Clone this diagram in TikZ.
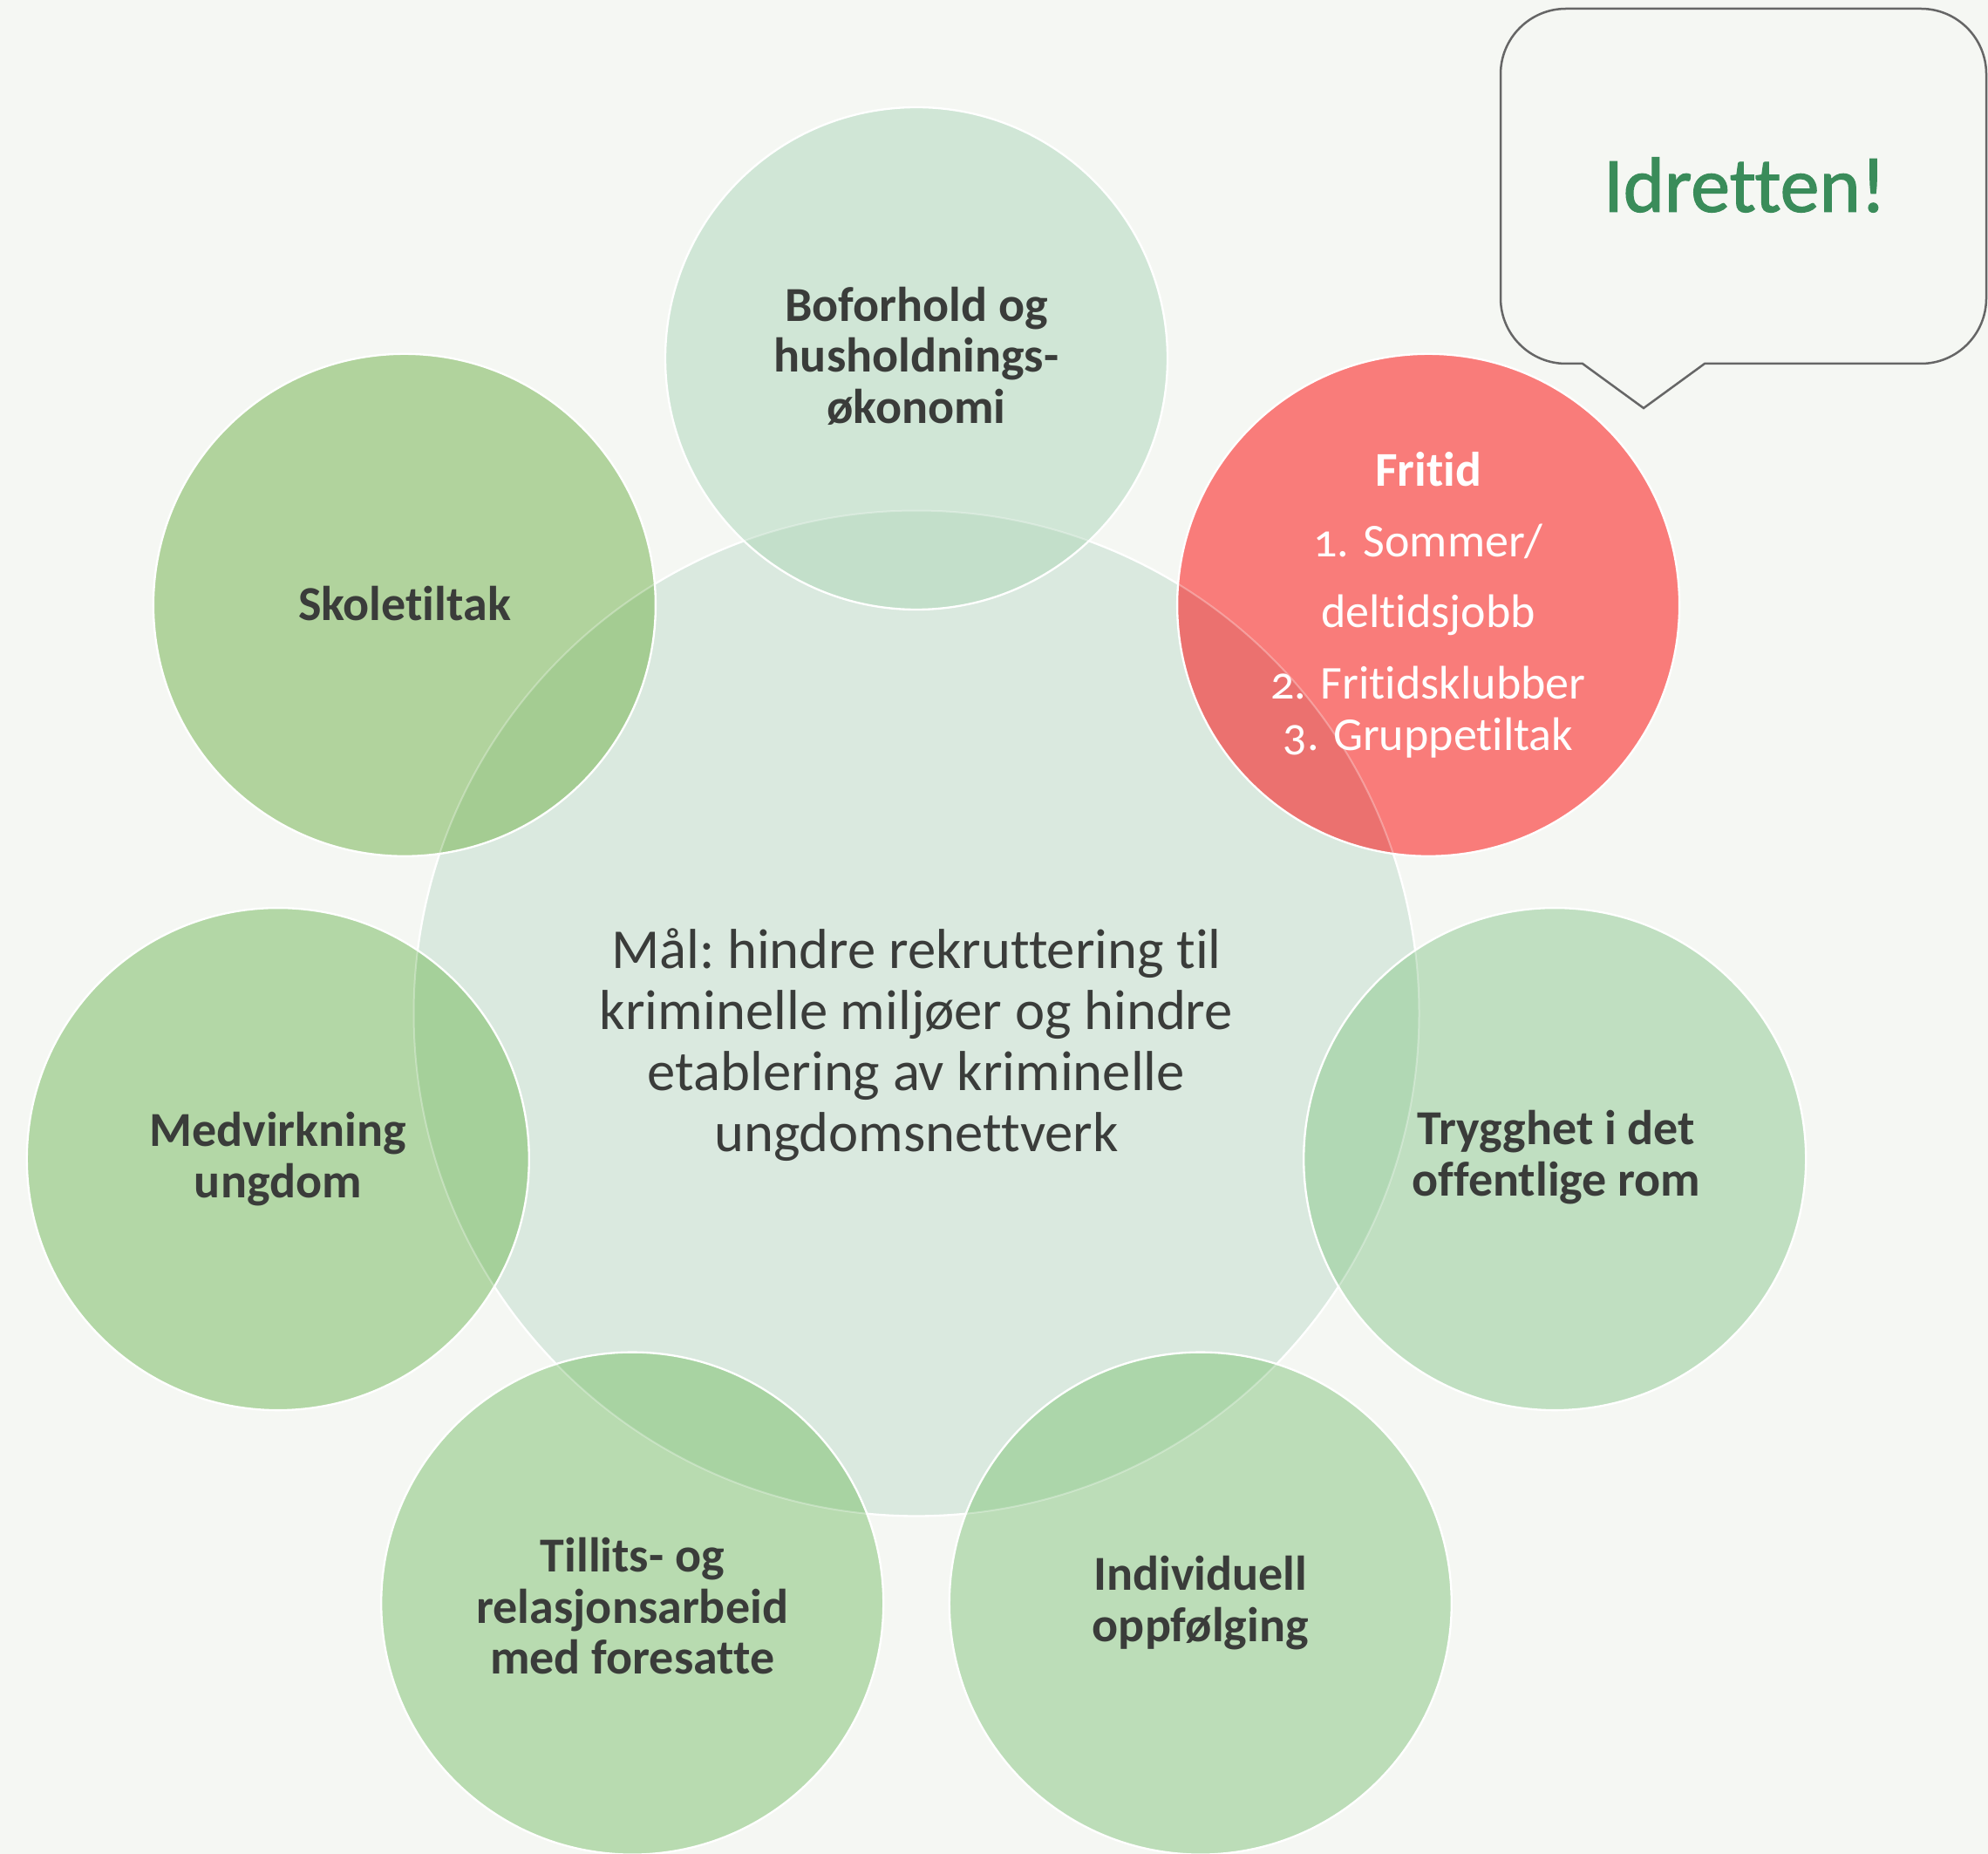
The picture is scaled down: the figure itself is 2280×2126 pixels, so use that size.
\documentclass[tikz,border=0pt]{standalone}
\usepackage{fontspec}
\setmainfont{Carlito}[Ligatures={NoCommon,NoContextual}]
\newfontfamily\oldnum{Carlito}[Numbers=OldStyle,Ligatures={NoCommon,NoContextual}]
\newfontfamily\idfont{Carlito}[FakeBold=1.3,Ligatures={NoCommon,NoContextual}]
\definecolor{bg}{HTML}{F5F7F3}
\definecolor{cenfill}{HTML}{DAE9DF}
\definecolor{txt}{HTML}{3A3C3A}
\definecolor{skA}{HTML}{B1D39D}\definecolor{skB}{HTML}{A4CC92}
\definecolor{meA}{HTML}{B3D7A6}\definecolor{meB}{HTML}{A5D09A}
\definecolor{tiA}{HTML}{B8DBB0}\definecolor{tiB}{HTML}{A8D3A2}
\definecolor{inA}{HTML}{BCDDB8}\definecolor{inB}{HTML}{ACD6AA}
\definecolor{trA}{HTML}{C0DFC1}\definecolor{trB}{HTML}{B1D8B4}
\definecolor{boA}{HTML}{D0E6D6}\definecolor{boB}{HTML}{C3DFCA}
\definecolor{frA}{HTML}{F97C7A}\definecolor{frB}{HTML}{EB716F}
\definecolor{calloutline}{HTML}{666666}
\definecolor{idgreen}{HTML}{3A8C5A}
\tikzset{
  centralcircle/.style={circle, minimum size=345.9pt, inner sep=0pt, fill=cenfill, draw=white, line width=0.7pt},
  outercircle/.style 2 args={circle, minimum size=172.8pt, inner sep=0pt, fill=#1, draw=white, line width=0.7pt,
    path picture={\fill[#2] (cen.center) circle[radius=172.95pt];
      \draw[white, opacity=0.3, line width=0.6pt] (cen.center) circle[radius=172.95pt];}},
  lbl/.style={font=\bfseries\fontsize{16.8}{17.55}\selectfont, text=txt, align=center, inner sep=0pt},
  goaltext/.style={font=\frenchspacing\fontsize{19.4}{21}\selectfont, text=txt, align=center, inner sep=0pt},
  frhead/.style={font=\bfseries\fontsize{16.7}{16.7}\selectfont, text=white, inner sep=0pt, anchor=base},
  fritem/.style={font=\oldnum\fontsize{16.2}{16.2}\selectfont, text=white, inner sep=0pt, anchor=base},
  calloutbox/.style={draw=calloutline, line width=0.75pt, fill=bg, line join=miter},
  idtext/.style={font=\idfont\fontsize{27}{27}\selectfont, text=idgreen, inner sep=0pt}
}
\begin{document}
\begin{tikzpicture}[x=0.3pt,y=-0.3pt]
\fill[bg] (0,0) rectangle (2280,2126);
\useasboundingbox (0,0) rectangle (2280,2126);

% central circle
\node[centralcircle] (cen) at (1051,1162) {};

% outer circles
\node[outercircle={boA}{boB}] (bo) at (1051,411) {};
\node[outercircle={skA}{skB}] (sk) at (463.9,693.8) {};
\node[outercircle={frA}{frB}] (fr) at (1638.1,693.8) {};
\node[outercircle={meA}{meB}] (me) at (318.8,1329.1) {};
\node[outercircle={trA}{trB}] (tr) at (1783.2,1329.1) {};
\node[outercircle={tiA}{tiB}] (ti) at (725.2,1838.6) {};
\node[outercircle={inA}{inB}] (in) at (1376.8,1838.6) {};

% labels
\node[goaltext] (goal) at (1051,1198) {Mål: hindre rekruttering til\\kriminelle miljøer og hindre\\etablering av kriminelle\\ungdomsnettverk};
\node[lbl] (bolbl) at (1051,408) {Boforhold og\\husholdnings-\\økonomi};
\node[lbl] (sklbl) at (463.9,692) {Skoletiltak};
\node[lbl] (melbl) at (318.8,1329) {Medvirkning\\ungdom};
\node[lbl] (trlbl) at (1785,1327) {Trygghet i det\\offentlige rom};
\node[lbl] (tilbl) at (725.2,1842) {Tillits- og\\relasjonsarbeid\\med foresatte};
\node[lbl] (inlbl) at (1376.8,1838) {Individuell\\oppfølging};

% Fritid text
\node[frhead] (frh) at (1638.1,557.7) {Fritid};
\node[fritem] (fr1) at (1638.1,639) {1. Sommer/};
\node[fritem] (fr1b) at (1638.1,719.5) {deltidsjobb};
\node[fritem] (fr2) at (1638.1,802) {2. Fritidsklubber};
\node[fritem] (fr3) at (1638.1,861) {3. Gruppetiltak};

% callout
\draw[calloutbox] (1815,417) -- (1885,468) -- (1955,417) -- (2203,417)
  .. controls (2244.4,417) and (2278,383.4) .. (2278,342)
  -- (2278,85)
  .. controls (2278,43.6) and (2244.4,10) .. (2203,10)
  -- (1796,10)
  .. controls (1754.6,10) and (1721,43.6) .. (1721,85)
  -- (1721,342)
  .. controls (1721,383.4) and (1754.6,417) .. (1796,417)
  -- cycle;
\node[idtext] (idr) at (2001,212) {Idretten!};
\end{tikzpicture}
\end{document}
